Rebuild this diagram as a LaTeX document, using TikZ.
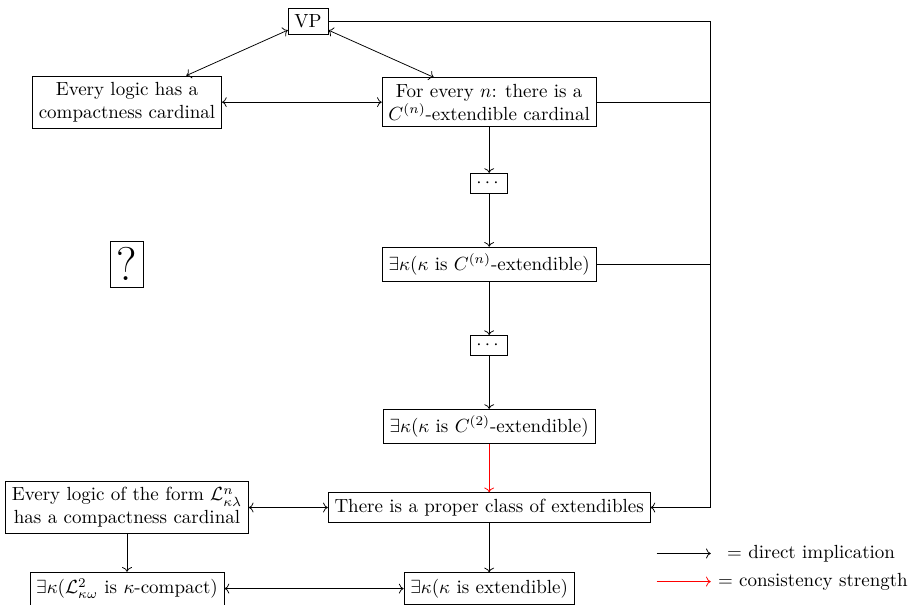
\documentclass[tikz,border=0pt]{standalone}
\usepackage{amsmath,amssymb}
\usetikzlibrary{arrows.meta,
                calc,
                positioning}

\begin{document}
\begin{tikzpicture}[node distance = 1.5cm, on grid]
    \tikzset
    {
        base/.style = {draw,
                       align = center},
        dotbox/.style = {base,
                         inner sep = 3pt},
        implies/.style = {->},
        consis/.style = {->,
                         red},
        >=To
    };
    \useasboundingbox (-9.05,1.89) rectangle (7.86,-9.29);

    % Right column
    \node[base] (cn all) at (0,0) {For every $n$: there is a\\ $C^{(n)}$-extendible cardinal};
    \node[dotbox] (dots 1) [below=of cn all] {$\cdots$};
    \node[base] (cn) [below=of dots 1] {$\exists\kappa(\kappa$ is $C^{(n)}$-extendible)};
    \node[dotbox] (dots 2) [below=of cn] {$\cdots$};
    \node[base] (c2) [below=of dots 2] {$\exists\kappa(\kappa$ is $C^{(2)}$-extendible)};
    \node[base] (proper) [below=of c2] {There is a proper class of extendibles};
    \node[base] (ext) [below=of proper] {$\exists\kappa(\kappa$ is extendible)};
    % Left column
    \node[base] (every) [left=6.7cm of cn all] {Every logic has a\\ compactness cardinal};
    \node[base, font=\Huge] (unknown) [left=6.7cm of cn] {?};
    \node[base] (form) [left=6.7cm of proper] {Every logic of the form $\mathcal{L}^n_{\kappa\lambda}$\\ has a compactness cardinal};
    \node[base] (compact) [left=6.7cm of ext] {$\exists\kappa(\mathcal{L}^2_{\kappa\omega}$ is $\kappa$-compact)};
    % Top
    \node[base] (vp) at ($($(every)!0.5!(cn all)$) + (0,1.5)$) {VP};

    % Arrows
    \draw[<->] (vp) -- (every);
    \draw[<->] (vp) -- (cn all);
    \draw[<->] (every) -- (cn all);
    \draw[implies] (cn all) -- (dots 1);
    \draw[implies] (dots 1) -- (cn);
    \draw[implies] (cn) -- (dots 2);
    \draw[implies] (dots 2) -- (c2);
    \draw[consis] (c2) -- (proper);
    \draw[implies] (proper) -- (ext);
    \draw[<->] (form) -- (proper);
    \draw[implies] (form) -- (compact);
    \draw[<->] (compact) -- (ext);
    %% Right line
    \coordinate (rt) at ([xshift=4.1cm] vp -| cn all);
    \draw[implies] (vp.east) -- (rt) |- (proper.east);
    \draw (cn all.east) -- (cn all -| rt);
    \draw (cn.east) -- (cn -| rt);

    % Legend
    \coordinate (leg 1) at ([yshift=-0.85cm] proper -| rt);
    \coordinate (leg 2) at ([yshift=-1.37cm] proper -| rt);
    \draw[implies] ([xshift=-1cm] leg 1) -- (leg 1);
    \draw[consis] ([xshift=-1cm] leg 2) -- (leg 2);
    \node[anchor=west] (leg text 1) at ([xshift=0.18cm] leg 1) {$=$ direct implication};
    \node[anchor=west] (leg text 2) at ([xshift=0.01cm] leg 2) {$=$ consistency strength};
\end{tikzpicture}
\end{document}
